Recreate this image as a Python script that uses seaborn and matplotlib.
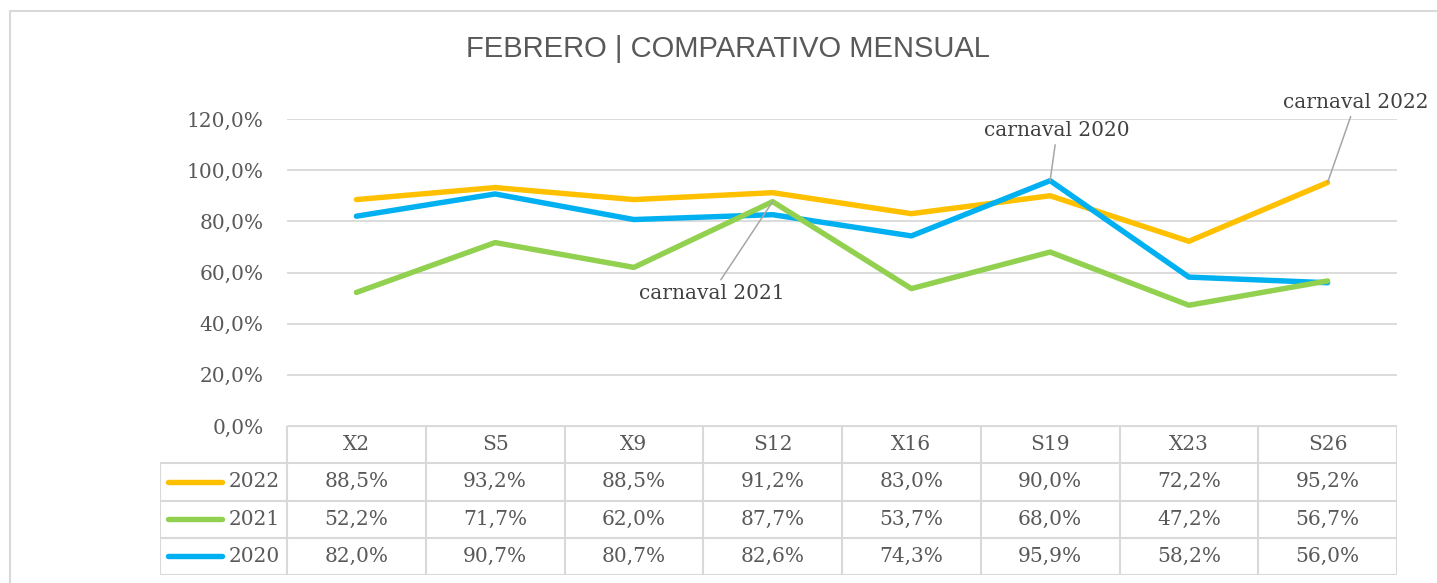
# Febrero | comparativo mensual - line chart with data table

import pandas as pd
import matplotlib.pyplot as plt
import seaborn as sns
from matplotlib.lines import Line2D
from matplotlib.ticker import FuncFormatter


# Data

days = ["X2", "S5", "X9", "S12", "X16", "S19", "X23", "S26"]
years = ["2022", "2021", "2020"]
v2022 = [88.5, 93.2, 88.5, 91.2, 83.0, 90.0, 72.2, 95.2]
v2021 = [52.2, 71.7, 62.0, 87.7, 53.7, 68.0, 47.2, 56.7]
v2020 = [82.0, 90.7, 80.7, 82.6, 74.3, 95.9, 58.2, 56.0]
yticks = [0, 20, 40, 60, 80, 100, 120]

colors = {"2022": "#FFC000", "2021": "#92D050", "2020": "#00B0F0"}
values = {"2022": v2022, "2021": v2021, "2020": v2020}

rows = []
for y in years:
    for i, d in enumerate(days):
        rows.append({"pos": i, "day": d, "year": y, "value": values[y][i]})
df = pd.DataFrame(rows)

sns.set_style("white")
plt.rcParams["font.family"] = ["DejaVu Serif"]

txt = "#595959"
grid = "#D9D9D9"
W, H = 1437, 583

fig = plt.figure(figsize=(W / 100, H / 100), dpi=100)

# outer chart border (only top and left edges are in view)
fig.lines.append(Line2D([10 / W, 1], [1 - 11 / H, 1 - 11 / H], transform=fig.transFigure,
                        color=grid, lw=1.5))
fig.lines.append(Line2D([10 / W, 10 / W], [0, 1 - 11 / H], transform=fig.transFigure,
                        color=grid, lw=1.5))

fig.text(728 / W, 1 - 49 / H, "FEBRERO | COMPARATIVO MENSUAL", ha="center", va="center",
         fontsize=21, color=txt, family="Liberation Sans")


# Main plot

ax = fig.add_axes([287 / W, (H - 426) / H, 1110 / W, 307 / H])

for y in ["2022", "2020", "2021"]:
    sns.lineplot(data=df[df["year"] == y], x="pos", y="value", color=colors[y],
                 lw=3.9, ax=ax, legend=False, solid_capstyle="round", solid_joinstyle="round")

ax.set_xlim(-0.5, len(days) - 0.5)
ax.set_ylim(0, 120)
ax.set_yticks(yticks)
ax.yaxis.set_major_formatter(FuncFormatter(lambda v, p: f"{v:.1f}%".replace(".", ",")))
ax.set_xticks([])
ax.set_xlabel("")
ax.set_ylabel("")
ax.grid(axis="y", color=grid, lw=1.3)
ax.tick_params(axis="y", length=0, pad=17, labelsize=14.5, labelcolor=txt)
for s in ax.spines.values():
    s.set_visible(False)
for l in ax.lines:
    l.set_clip_on(False)

arrow = dict(arrowstyle="-", color="#A6A6A6", lw=1.1, shrinkA=1, shrinkB=0)
notes = [("carnaval 2020", 5, v2020[5], (7, 50)),
         ("carnaval 2022", 7, v2022[7], (28, 80)),
         ("carnaval 2021", 3, v2021[3], (-61, -92))]
for label, i, v, off in notes:
    ax.annotate(label, xy=(i, v), xytext=off, textcoords="offset pixels",
                ha="center", va="center", fontsize=14.5, color="#404040",
                arrowprops=arrow, annotation_clip=False)


# Data table

tab = fig.add_axes([160 / W, (H - 575) / H, 1237 / W, 149 / H])
left = -0.5 - 127 / 138.75
tab.set_xlim(left, len(days) - 0.5)
tab.set_ylim(4, 0)
tab.axis("off")

# horizontal lines
tab.plot([-0.5, len(days) - 0.5], [0, 0], color=grid, lw=1.5)
for r in range(1, 5):
    tab.plot([left, len(days) - 0.5], [r, r], color=grid, lw=1.5)
# vertical lines
for c in range(len(days) + 1):
    tab.plot([c - 0.5, c - 0.5], [0, 4], color=grid, lw=1.5)
tab.plot([left, left], [1, 4], color=grid, lw=1.5)

for i, d in enumerate(days):
    tab.text(i, 0.5, d, ha="center", va="center", fontsize=14.5, color=txt)

for r, y in enumerate(years, start=1):
    tab.plot([left + 0.06, left + 0.45], [r + 0.5, r + 0.5], color=colors[y], lw=3.9,
             solid_capstyle="round")
    tab.text(-0.55, r + 0.5, y, ha="right", va="center", fontsize=14.5, color=txt)
    for i, v in enumerate(values[y]):
        tab.text(i, r + 0.5, f"{v:.1f}%".replace(".", ","), ha="center", va="center",
                 fontsize=14.5, color=txt)

plt.savefig("out.png", dpi=100)
